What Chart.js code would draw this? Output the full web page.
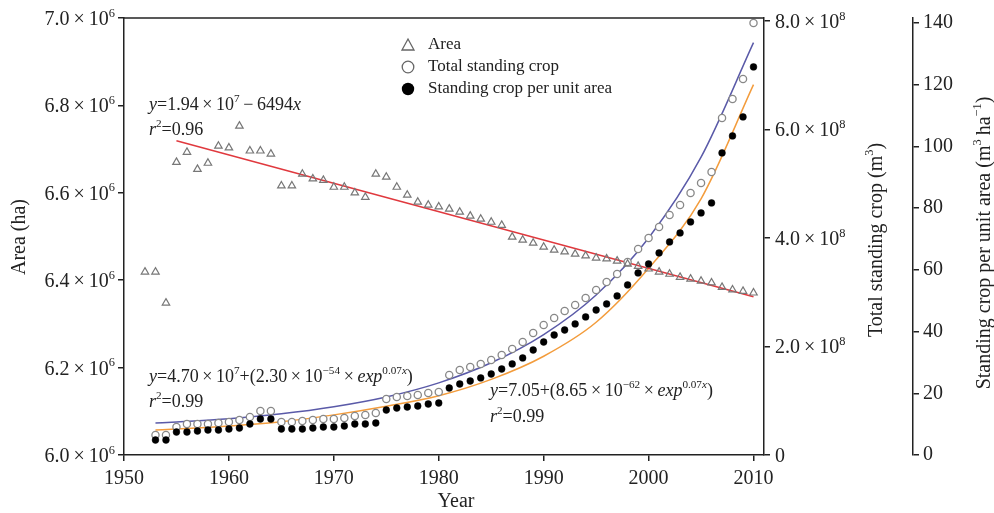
<!DOCTYPE html>
<html>
<head>
<meta charset="utf-8">
<script src="https://cdn.jsdelivr.net/npm/chart.js@4.4.0/dist/chart.umd.min.js"></script>
<style>
  html, body { margin: 0; padding: 0; background: #fff; }
</style>
</head>
<body>
<canvas id="chart" width="994" height="513"></canvas>
<script>
// area (ha), 1952-2010
const areaYears = [1952, 1953, 1954, 1955, 1956, 1957, 1958, 1959, 1960, 1961, 1962, 1963, 1964,
  1965, 1966, 1967, 1968, 1969, 1970, 1971, 1972, 1973, 1974, 1975, 1976, 1977, 1978, 1979, 1980,
  1981, 1982, 1983, 1984, 1985, 1986, 1987, 1988, 1989, 1990, 1991, 1992, 1993, 1994, 1995, 1996,
  1997, 1998, 1999, 2000, 2001, 2002, 2003, 2004, 2005, 2006, 2007, 2008, 2009, 2010];
const areaVals = [6419000, 6419000, 6348000,
  6670000, 6693000, 6654000, 6668000, 6707000, 6703000, 6753000, 6696000, 6696000, 6689000,
  6616000, 6616000, 6643000, 6632000, 6629000, 6613000, 6613000, 6600000, 6590000, 6643000,
  6636000, 6613000, 6595000, 6579000, 6572000, 6568000, 6563000, 6556000, 6547000, 6540000,
  6533000, 6526000, 6499000, 6492000, 6485000, 6476000, 6469000, 6465000, 6460000, 6456000,
  6451000, 6449000, 6444000, 6437000, 6432000, 6426000, 6419000, 6414000, 6407000, 6403000,
  6398000, 6394000, 6384000, 6378000, 6375000, 6371000];

// standing crop, 1953-2010
const cropYears = areaYears.slice(1);
const totalCrop = [0.369e8, 0.369e8,
  0.516e8, 0.571e8, 0.571e8, 0.571e8, 0.590e8, 0.608e8, 0.645e8, 0.700e8, 0.811e8, 0.811e8,
  0.608e8, 0.608e8, 0.627e8, 0.645e8, 0.663e8, 0.663e8, 0.682e8, 0.719e8, 0.737e8, 0.774e8,
  1.032e8, 1.069e8, 1.087e8, 1.106e8, 1.143e8, 1.161e8, 1.474e8, 1.567e8, 1.622e8, 1.677e8,
  1.751e8, 1.843e8, 1.954e8, 2.083e8, 2.248e8, 2.396e8, 2.525e8, 2.654e8, 2.765e8, 2.894e8,
  3.041e8, 3.188e8, 3.336e8, 3.557e8, 3.797e8, 3.999e8, 4.202e8, 4.423e8, 4.608e8, 4.829e8,
  5.013e8, 5.216e8, 6.211e8, 6.561e8, 6.930e8, 7.962e8];
const perUnitArea = [4.86, 4.86,
  7.45, 7.45, 7.78, 8.10, 8.10, 8.43, 8.75, 10.05, 11.67, 11.67,
  8.43, 8.43, 8.43, 8.75, 9.07, 9.07, 9.40, 10.05, 10.05, 10.37,
  14.58, 15.23, 15.56, 15.88, 16.53, 16.85, 21.71, 23.01, 23.98, 24.96,
  26.25, 27.87, 29.50, 31.44, 34.03, 36.62, 38.89, 40.51, 42.46, 44.73,
  46.99, 48.94, 51.53, 55.10, 58.99, 61.90, 65.47, 69.03, 71.95, 75.52,
  78.43, 81.67, 97.88, 103.39, 109.55, 125.75];

// fitted curves
const lineYears = [1955, 2010];
const areaFit = [6719000, 6362000];
const fitYears = [1953, 1955, 1960, 1965, 1970, 1975, 1980, 1985, 1990, 1995, 2000, 2005, 2010];
const totalFit = [0.59e8, 0.61e8, 0.67e8, 0.76e8, 0.89e8, 1.07e8, 1.33e8, 1.70e8, 2.22e8, 2.95e8, 4.0e8, 5.49e8, 7.6e8];
const perUnitFit = [8.1, 8.4, 9.4, 10.8, 13.0, 15.8, 19.2, 24.5, 32, 43, 60.5, 83, 120];

// tick values
const xTicks = [1950, 1960, 1970, 1980, 1990, 2000, 2010];
const areaTicks = [6.0e6, 6.2e6, 6.4e6, 6.6e6, 6.8e6, 7.0e6];
const cropTicks = [0, 2e8, 4e8, 6e8, 8e8];
const unitTicks = [0, 20, 40, 60, 80, 100, 120, 140];

const pts = (xs, ys) => xs.map((x, i) => ({ x: x, y: ys[i] }));

const SERIF = '"Liberation Serif", "Times New Roman", serif';
const INK = '#222';
Chart.defaults.font.family = SERIF;
Chart.defaults.color = INK;

// little rich-text helper for superscripts / italics
function setFont(ctx, f, size) {
  const s = f.includes('s') ? size * 0.62 : size;
  ctx.font = (f.includes('i') ? 'italic ' : '') + s + 'px ' + SERIF;
}
function richWidth(ctx, parts, size) {
  let w = 0;
  parts.forEach(([t, f = '']) => { setFont(ctx, f, size); w += ctx.measureText(t).width; });
  return w;
}
function drawRich(ctx, parts, x, y, size) {
  ctx.textAlign = 'left';
  ctx.textBaseline = 'alphabetic';
  parts.forEach(([t, f = '']) => {
    setFont(ctx, f, size);
    ctx.fillText(t, x, f.includes('s') ? y - size * 0.42 : y);
    x += ctx.measureText(t).width;
  });
}
function drawRotated(ctx, parts, cx, cy, size) {
  const w = richWidth(ctx, parts, size);
  ctx.save();
  ctx.translate(cx, cy);
  ctx.rotate(-Math.PI / 2);
  drawRich(ctx, parts, -w / 2, size * 0.33, size);
  ctx.restore();
}
// tick label like "6.4 × 10^6"
const sciLabel = (v, exp) => v === 0 ? [['0']] : [[(v / Math.pow(10, exp)).toFixed(1) + '\u2009×\u200910'], [String(exp), 's']];

const extras = {
  id: 'extras',
  afterDraw(chart) {
    const ctx = chart.ctx;
    const a = chart.chartArea;
    ctx.save();
    // top frame
    ctx.strokeStyle = INK;
    ctx.lineWidth = 1.5;
    ctx.beginPath();
    ctx.moveTo(a.left, a.top);
    ctx.lineTo(a.right, a.top);
    ctx.stroke();

    ctx.fillStyle = INK;
    // scientific tick labels
    const sy = chart.scales.y, sy2 = chart.scales.y2;
    areaTicks.forEach(v => {
      const parts = sciLabel(v, 6);
      const w = richWidth(ctx, parts, 20);
      drawRich(ctx, parts, sy.right - 9 - w, sy.getPixelForValue(v) + 7, 20);
    });
    cropTicks.forEach(v => {
      drawRich(ctx, sciLabel(v, 8), sy2.left + 11, sy2.getPixelForValue(v) + 7, 20);
    });

    // equations
    const e = 18;
    drawRich(ctx, [['y', 'i'], ['=1.94\u2009×\u200910'], ['7', 's'], ['\u2009−\u20096494'], ['x', 'i']], 149, 110, e);
    drawRich(ctx, [['r', 'i'], ['2', 's'], ['=0.96']], 149, 135, e);
    drawRich(ctx, [['y', 'i'], ['=4.70\u2009×\u200910'], ['7', 's'], ['+(2.30\u2009×\u200910'], ['−54', 's'],
      ['\u2009×\u2009'], ['exp', 'i'], ['0.07', 's'], ['x', 'si'], [')']], 149, 382, e);
    drawRich(ctx, [['r', 'i'], ['2', 's'], ['=0.99']], 149, 407, e);
    drawRich(ctx, [['y', 'i'], ['=7.05+(8.65\u2009×\u200910'], ['−62', 's'],
      ['\u2009×\u2009'], ['exp', 'i'], ['0.07', 's'], ['x', 'si'], [')']], 490, 396, e);
    drawRich(ctx, [['r', 'i'], ['2', 's'], ['=0.99']], 490, 422, e);

    // legend
    const lx = 408;
    ctx.lineWidth = 1.3;
    ctx.strokeStyle = '#666';
    ctx.beginPath();
    ctx.moveTo(lx, 39); ctx.lineTo(lx + 6, 50); ctx.lineTo(lx - 6, 50); ctx.closePath();
    ctx.stroke();
    ctx.beginPath();
    ctx.arc(lx, 67, 5.8, 0, Math.PI * 2);
    ctx.stroke();
    ctx.fillStyle = '#000';
    ctx.beginPath();
    ctx.arc(lx, 89, 6.2, 0, Math.PI * 2);
    ctx.fill();
    ctx.fillStyle = INK;
    ctx.font = '17px ' + SERIF;
    ctx.textBaseline = 'middle';
    ctx.fillText('Area', 428, 45);
    ctx.fillText('Total standing crop', 428, 67);
    ctx.fillText('Standing crop per unit area', 428, 89);

    // axis titles
    const t = 20;
    drawRotated(ctx, [['Area (ha)']], 18, 237, t);
    const yw = richWidth(ctx, [['Year']], t);
    drawRich(ctx, [['Year']], (a.left + a.right) / 2 - yw / 2 + 12, 507, t);
    drawRotated(ctx, [['Total standing crop (m'], ['3', 's'], [')']], 875, 240, t);
    drawRotated(ctx, [['Standing crop per unit area (m'], ['3', 's'], ['\u2009ha'], ['−1', 's'], [')']], 983, 243, t);
    ctx.restore();
  }
};

const axisLook = {
  grid: { drawOnChartArea: false, drawTicks: true, tickLength: 6, color: INK, lineWidth: 1.5 },
  border: { display: true, color: INK, width: 1.5 }
};
const hidden = 'rgba(0,0,0,0)';

new Chart(document.getElementById('chart').getContext('2d'), {
  type: 'scatter',
  data: {
    datasets: [
      {
        label: 'Area fit', type: 'line', data: pts(lineYears, areaFit), yAxisID: 'y',
        borderColor: '#e0393e', borderWidth: 1.5, pointRadius: 0, order: 5
      },
      {
        label: 'Total fit', type: 'line', data: pts(fitYears, totalFit), yAxisID: 'y2',
        borderColor: '#5a5aa8', borderWidth: 1.5, pointRadius: 0, cubicInterpolationMode: 'monotone', order: 5
      },
      {
        label: 'Per unit fit', type: 'line', data: pts(fitYears, perUnitFit), yAxisID: 'y3',
        borderColor: '#f39c3c', borderWidth: 1.5, pointRadius: 0, cubicInterpolationMode: 'monotone', order: 5
      },
      {
        label: 'Area', data: pts(areaYears, areaVals), yAxisID: 'y',
        pointStyle: 'triangle', pointRadius: 4.3, borderColor: '#777', borderWidth: 1.2,
        backgroundColor: 'rgba(255,255,255,0)', order: 1
      },
      {
        label: 'Total standing crop', data: pts(cropYears, totalCrop), yAxisID: 'y2',
        pointStyle: 'circle', pointRadius: 3.6, borderColor: '#888', borderWidth: 1.3,
        backgroundColor: '#fff', order: 1
      },
      {
        label: 'Standing crop per unit area', data: pts(cropYears, perUnitArea), yAxisID: 'y3',
        pointStyle: 'circle', pointRadius: 3.4, borderColor: '#000', borderWidth: 0.5,
        backgroundColor: '#000', order: 0
      }
    ]
  },
  options: {
    responsive: false,
    animation: false,
    devicePixelRatio: 1,
    layout: { padding: { top: 18, left: 0, right: 0, bottom: 0 } },
    plugins: { legend: { display: false }, tooltip: { enabled: false } },
    scales: {
      x: {
        type: 'linear', min: 1950, max: 2011,
        afterBuildTicks: s => { s.ticks = xTicks.map(v => ({ value: v })); },
        afterFit: s => { s.height = 58; },
        ticks: { font: { size: 20 }, color: INK, padding: 6, maxRotation: 0, callback: v => String(v) },
        ...axisLook
      },
      y: {
        position: 'left', min: 6.0e6, max: 7.0e6,
        afterBuildTicks: s => { s.ticks = areaTicks.map(v => ({ value: v })); },
        afterFit: s => { s.width = 124; },
        ticks: { font: { size: 20 }, color: hidden, padding: 3 },
        ...axisLook
      },
      y2: {
        position: 'right', weight: 0, min: 0, max: 8.055e8,
        afterBuildTicks: s => { s.ticks = cropTicks.map(v => ({ value: v })); },
        afterFit: s => { s.width = 149; },
        ticks: { font: { size: 20 }, color: hidden, padding: 5 },
        ...axisLook
      },
      y3: {
        position: 'right', weight: 1, min: 0, max: 141.6,
        afterBuildTicks: s => { s.ticks = unitTicks.map(v => ({ value: v })); },
        afterFit: s => { s.width = 81; },
        ticks: { font: { size: 20 }, color: INK, padding: 4, callback: v => String(v) },
        ...axisLook
      }
    }
  },
  plugins: [extras]
});
</script>
</body>
</html>
